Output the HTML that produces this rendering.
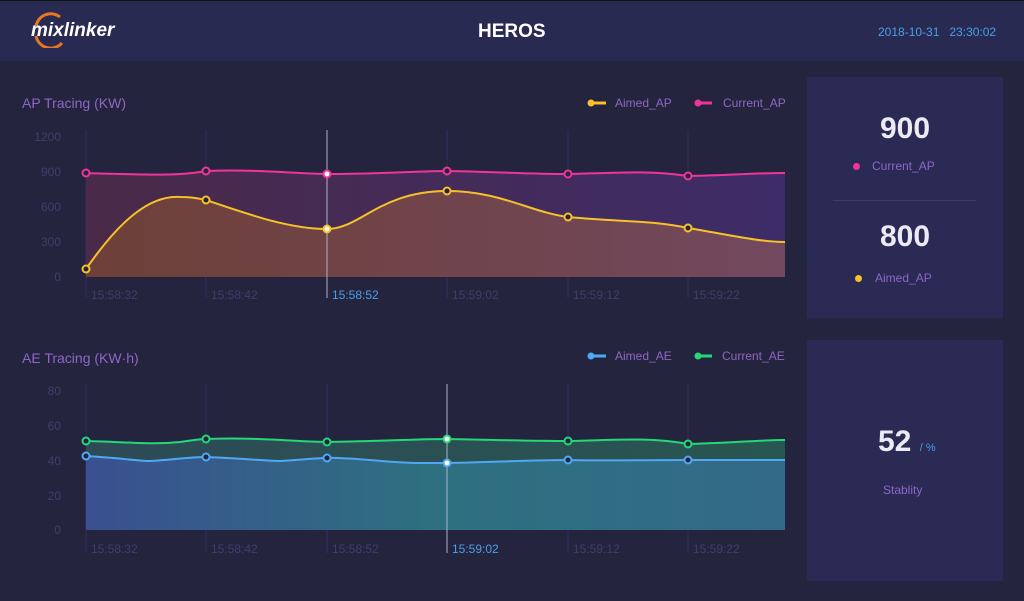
<!DOCTYPE html>
<html><head><meta charset="utf-8"><style>
body{margin:0;width:1024px;height:601px;background:#25243f;font-family:"Liberation Sans",sans-serif;overflow:hidden;position:relative}
.hdr{position:absolute;left:0;top:1px;width:1024px;height:60px;background:#292a52}
.t{position:absolute;white-space:nowrap}
.panel{position:absolute;left:807px;width:196px;background:#2a2a55}
</style></head><body>
<div style="position:absolute;left:0;top:0;width:1024px;height:1px;background:#111"></div>
<div class="hdr"></div>
<svg class="t" style="left:30px;top:12px" width="60" height="36"><path d="M6 14 A15 15 0 0 1 30 5" stroke="#e87722" stroke-width="3" fill="none"/><path d="M6 24 A15 15 0 0 0 32 31" stroke="#e87722" stroke-width="3" fill="none"/></svg>
<div class="t" style="left:31px;top:20px;font-size:19px;font-weight:bold;font-style:italic;color:#fff">mixlinker</div>
<div class="t" style="left:478px;top:21px;font-size:19px;font-weight:bold;color:#fff">HEROS</div>
<div class="t" style="left:878px;top:25px;font-size:12px;color:#4a9fe8">2018-10-31&nbsp;&nbsp;&nbsp;23:30:02</div>

<div class="t" style="left:22px;top:95px;font-size:14px;color:#8d67c4">AP Tracing (KW)</div>
<div class="t" style="left:22px;top:350px;font-size:14px;color:#8d67c4">AE Tracing (KW·h)</div>

<svg class="t" style="left:0;top:0" width="800" height="601" font-family="Liberation Sans" font-size="12">
<defs>
<linearGradient id="g1" x1="0" x2="1"><stop offset="0" stop-color="#4a2a48"/><stop offset="1" stop-color="#3e2c68"/></linearGradient>
<linearGradient id="g2" x1="0" x2="1"><stop offset="0" stop-color="#6e4038"/><stop offset="1" stop-color="#72485e"/></linearGradient>
<linearGradient id="g3" x1="0" x2="1"><stop offset="0" stop-color="#2d4a56"/><stop offset="1" stop-color="#285650"/></linearGradient>
<linearGradient id="g4" x1="0" x2="1"><stop offset="0" stop-color="#3a5090"/><stop offset="0.5" stop-color="#2e7080"/><stop offset="1" stop-color="#336a88"/></linearGradient>
</defs>
<g fill="#3d3f6a" text-anchor="end">
<text x="61" y="141">1200</text><text x="61" y="176">900</text><text x="61" y="211">600</text><text x="61" y="246">300</text><text x="61" y="281">0</text>
<text x="61" y="395">80</text><text x="61" y="430">60</text><text x="61" y="465">40</text><text x="61" y="500">20</text><text x="61" y="534">0</text>
</g>
<g stroke="#2f3160" stroke-width="1">
<line x1="86" y1="130" x2="86" y2="298"/><line x1="206" y1="130" x2="206" y2="298"/><line x1="447" y1="130" x2="447" y2="298"/><line x1="568" y1="130" x2="568" y2="298"/><line x1="688" y1="130" x2="688" y2="298"/>
<line x1="86" y1="384" x2="86" y2="553"/><line x1="206" y1="384" x2="206" y2="553"/><line x1="327" y1="384" x2="327" y2="553"/><line x1="568" y1="384" x2="568" y2="553"/><line x1="688" y1="384" x2="688" y2="553"/>
</g>
<path d="M86 173 C150 175,180 176,206 171 C260 169,300 174,327 174 C380 174,420 171,447 171 C500 172,530 174,568 174 C620 173,650 170,688 176 C730 175,760 173,785 173 L785 277 L86 277Z" fill="url(#g1)"/>
<path d="M86 269 C120 220,150 195,180 197 C195 197,200 199,206 200 C250 215,290 229,327 229 C360 229,380 191,447 191 C500 191,530 212,568 217 C620 222,650 220,688 228 C730 235,760 242,785 242 L785 277 L86 277Z" fill="url(#g2)"/>
<path d="M86 173 C150 175,180 176,206 171 C260 169,300 174,327 174 C380 174,420 171,447 171 C500 172,530 174,568 174 C620 173,650 170,688 176 C730 175,760 173,785 173" fill="none" stroke="#f0349a" stroke-width="2"/>
<path d="M86 269 C120 220,150 195,180 197 C195 197,200 199,206 200 C250 215,290 229,327 229 C360 229,380 191,447 191 C500 191,530 212,568 217 C620 222,650 220,688 228 C730 235,760 242,785 242" fill="none" stroke="#f8c12a" stroke-width="2"/>
<line x1="327" y1="130" x2="327" y2="298" stroke="#b0b0c8"/>
<g fill="#25243f" stroke-width="2" stroke="#f0349a"><circle cx="86" cy="173" r="3.5"/><circle cx="206" cy="171" r="3.5"/><circle cx="447" cy="171" r="3.5"/><circle cx="568" cy="174" r="3.5"/><circle cx="688" cy="176" r="3.5"/><circle cx="327" cy="174" r="3.5" fill="#fff"/></g>
<g fill="#25243f" stroke-width="2" stroke="#f8c12a"><circle cx="86" cy="269" r="3.5"/><circle cx="206" cy="200" r="3.5"/><circle cx="447" cy="191" r="3.5"/><circle cx="568" cy="217" r="3.5"/><circle cx="688" cy="228" r="3.5"/><circle cx="327" cy="229" r="3.5" fill="#fff"/></g>

<path d="M86 441 C130 442,150 445,180 442 C195 440,200 439,206 439 C260 437,300 442,327 442 C380 441,420 439,447 439 C500 440,530 441,568 441 C620 440,650 437,688 444 C730 443,760 440,785 440 L785 530 L86 530Z" fill="url(#g3)"/>
<path d="M86 456 C120 458,140 461,150 461 C170 460,190 457,206 457 C250 459,270 461,280 461 C300 460,315 458,327 458 C350 457,390 463,420 463 C430 463,440 463,447 463 C500 462,530 460,568 460 C600 461,650 460,688 460 C730 460,760 460,785 460 L785 530 L86 530Z" fill="url(#g4)"/>
<path d="M86 441 C130 442,150 445,180 442 C195 440,200 439,206 439 C260 437,300 442,327 442 C380 441,420 439,447 439 C500 440,530 441,568 441 C620 440,650 437,688 444 C730 443,760 440,785 440" fill="none" stroke="#22d878" stroke-width="2"/>
<path d="M86 456 C120 458,140 461,150 461 C170 460,190 457,206 457 C250 459,270 461,280 461 C300 460,315 458,327 458 C350 457,390 463,420 463 C430 463,440 463,447 463 C500 462,530 460,568 460 C600 461,650 460,688 460 C730 460,760 460,785 460" fill="none" stroke="#4ea8f4" stroke-width="2"/>
<line x1="447" y1="384" x2="447" y2="553" stroke="#b0b0c8"/>
<g fill="#25243f" stroke-width="2" stroke="#22d878"><circle cx="86" cy="441" r="3.5"/><circle cx="206" cy="439" r="3.5"/><circle cx="327" cy="442" r="3.5"/><circle cx="568" cy="441" r="3.5"/><circle cx="688" cy="444" r="3.5"/><circle cx="447" cy="439" r="3.5" fill="#fff"/></g>
<g fill="#25243f" stroke-width="2" stroke="#4ea8f4"><circle cx="86" cy="456" r="3.5"/><circle cx="206" cy="457" r="3.5"/><circle cx="327" cy="458" r="3.5"/><circle cx="568" cy="460" r="3.5"/><circle cx="688" cy="460" r="3.5"/><circle cx="447" cy="463" r="3.5" fill="#fff"/></g>

<g fill="#3d3f6a">
<text x="91" y="299">15:58:32</text><text x="211" y="299">15:58:42</text><text x="332" y="299" fill="#4a9fe8">15:58:52</text><text x="452" y="299">15:59:02</text><text x="573" y="299">15:59:12</text><text x="693" y="299">15:59:22</text>
<text x="91" y="553">15:58:32</text><text x="211" y="553">15:58:42</text><text x="332" y="553">15:58:52</text><text x="452" y="553" fill="#4a9fe8">15:59:02</text><text x="573" y="553">15:59:12</text><text x="693" y="553">15:59:22</text>
</g>
<g font-size="12" fill="#8d67c4">
<line x1="590" y1="103" x2="606" y2="103" stroke="#f8c12a" stroke-width="3"/><circle cx="591" cy="103" r="3.5" fill="#f8c12a"/><text x="615" y="107">Aimed_AP</text>
<line x1="697" y1="103" x2="712" y2="103" stroke="#f0349a" stroke-width="3"/><circle cx="698" cy="103" r="3.5" fill="#f0349a"/><text x="723" y="107">Current_AP</text>
<line x1="590" y1="356" x2="606" y2="356" stroke="#4ea8f4" stroke-width="3"/><circle cx="591" cy="356" r="3.5" fill="#4ea8f4"/><text x="615" y="360">Aimed_AE</text>
<line x1="697" y1="356" x2="712" y2="356" stroke="#22d878" stroke-width="3"/><circle cx="698" cy="356" r="3.5" fill="#22d878"/><text x="722" y="360">Current_AE</text>
</g>
</svg>

<div class="panel" style="top:77px;height:241px"></div>
<div class="panel" style="top:340px;height:241px"></div>
<div class="t" style="left:833px;top:200px;width:143px;height:1px;background:#3a3d6a"></div>
<div class="t" style="left:807px;top:112px;width:196px;text-align:center;font-size:30px;font-weight:bold;color:#ecebf5">900</div>
<div class="t" style="left:853px;top:163px;width:7px;height:7px;border-radius:50%;background:#f0349a"></div>
<div class="t" style="left:872px;top:159px;font-size:12px;color:#8d67c4">Current_AP</div>
<div class="t" style="left:807px;top:220px;width:196px;text-align:center;font-size:30px;font-weight:bold;color:#ecebf5">800</div>
<div class="t" style="left:855px;top:275px;width:7px;height:7px;border-radius:50%;background:#f8c12a"></div>
<div class="t" style="left:875px;top:271px;font-size:12px;color:#8d67c4">Aimed_AP</div>
<div class="t" style="left:878px;top:425px;font-size:30px;font-weight:bold;color:#ecebf5">52 <span style="font-size:11px;font-weight:normal;color:#4a9fe8">/ %</span></div>
<div class="t" style="left:883px;top:483px;font-size:12px;color:#8d67c4">Stablity</div>
</body></html>
